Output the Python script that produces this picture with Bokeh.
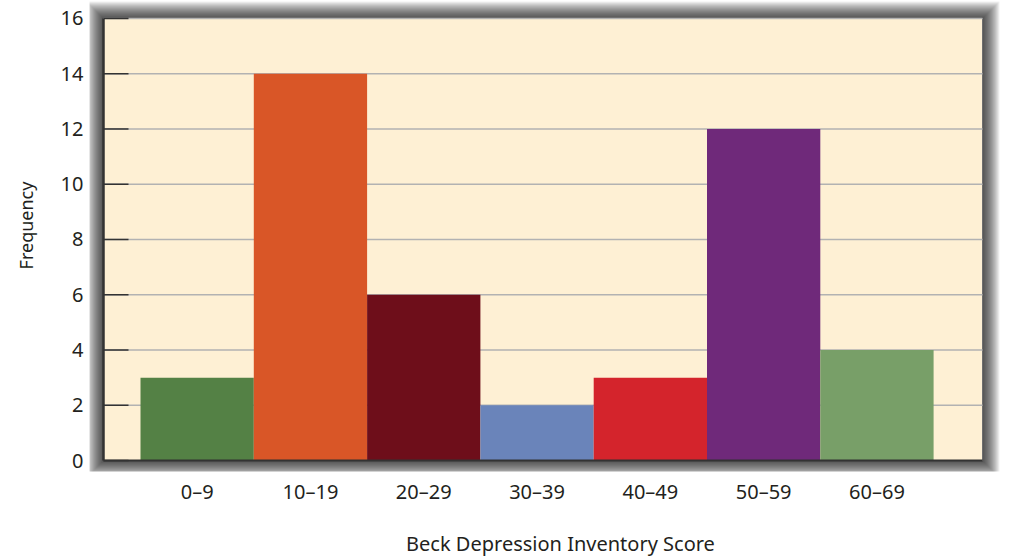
from bokeh.plotting import figure
from bokeh.models import ColumnDataSource, FixedTicker
from bokeh.embed import file_html
from bokeh.resources import INLINE

categories = ["0–9", "10–19", "20–29", "30–39", "40–49", "50–59", "60–69"]
frequency = [3, 14, 6, 2, 3, 12, 4]
colors = ["#548145", "#D95627", "#6E0E1A", "#6A84BA", "#D4242C", "#6F297A", "#789F68"]
y_ticks = [0, 2, 4, 6, 8, 10, 12, 14, 16]

FONT = "Noto Sans"
BG = "#FEF0D4"
TXT = "#231f20"

# geometry (pixels) of the cream plotting box and the surrounding shadow
W, H = 1035, 559
box_l, box_r, box_t, box_b = 103, 982, 18, 461
fr_l, fr_t, fr_b = 89, 0, 472
title_cx = 560                     # horizontal centre of the x-axis title
fr_r = 2 * title_cx - fr_l         # frame made asymmetric so the title centres there
bar_px = 113.3
left_gap_px = 37
shadow_px = 17

ppx = bar_px                      # pixels per x unit
ppy = (box_b - box_t) / 16.0      # pixels per y unit
cx0 = -0.5 - left_gap_px / ppx
cx1 = cx0 + (box_r - box_l) / ppx
cy0, cy1 = 0.0, 16.0
x_start = cx0 - (box_l - fr_l) / ppx
x_end = cx1 + (fr_r - box_r) / ppx
y_start = cy0 - (fr_b - box_b) / ppy
y_end = cy1 + (box_t - fr_t) / ppy

p = figure(width=W, height=H, output_backend="svg", toolbar_location=None,
           x_range=(x_start, x_end), y_range=(y_start, y_end))
p.min_border_left = fr_l
p.min_border_right = W - fr_r
p.min_border_top = fr_t
p.min_border_bottom = H - fr_b
p.background_fill_color = "white"
p.border_fill_color = "white"
p.outline_line_color = None
p.xgrid.visible = False
p.ygrid.visible = False

# soft drop shadow: stacked translucent boxes
for i in range(shadow_px, 0, -1):
    p.quad(left=cx0 - i / ppx, right=cx1 + i / ppx, bottom=cy0 - i / ppy, top=cy1 + i / ppy,
           fill_color="black", fill_alpha=0.06, line_color=None, level="image")
# cream plotting box
p.quad(left=cx0, right=cx1, bottom=cy0, top=cy1, fill_color=BG, line_color="#6e6e6e",
       line_width=1, level="image")

# grid lines
grid_y = [t for t in y_ticks if t > 0]
p.segment(x0=[cx0] * len(grid_y), x1=[cx1] * len(grid_y), y0=grid_y, y1=grid_y,
          line_color="#b2b2b2", line_width=1.5, level="underlay")

# bars
src = ColumnDataSource(dict(x=list(range(len(categories))), top=frequency, color=colors))
p.vbar(x="x", top="top", width=1.0, bottom=0, source=src, fill_color="color",
       line_color=None)

# axis lines and inward tick marks
p.segment(x0=[cx0], x1=[cx0], y0=[cy0], y1=[cy1], line_color="#333333", line_width=2.5,
          level="overlay")
p.segment(x0=[cx0], x1=[cx1], y0=[cy0], y1=[cy0], line_color="#333333", line_width=2,
          level="overlay")
p.segment(x0=[cx0] * len(y_ticks), x1=[cx0 + 25 / ppx] * len(y_ticks), y0=y_ticks, y1=y_ticks,
          line_color="#333333", line_width=1.5, level="overlay")

# x axis (labels only)
p.xaxis.ticker = FixedTicker(ticks=list(range(len(categories))))
p.xaxis.major_label_overrides = {i: c for i, c in enumerate(categories)}
p.xaxis.major_tick_line_color = None
p.xaxis.minor_tick_line_color = None
p.xaxis.axis_line_color = None
p.xaxis.major_label_text_font = FONT
p.xaxis.major_label_text_font_size = "20px"
p.xaxis.major_label_text_color = TXT
p.xaxis.major_label_standoff = 0
p.xaxis.axis_label = "Beck Depression Inventory Score"
p.xaxis.axis_label_text_font = FONT
p.xaxis.axis_label_text_font_size = "20px"
p.xaxis.axis_label_text_font_style = "normal"
p.xaxis.axis_label_text_color = TXT
p.xaxis.axis_label_standoff = 22

# y axis (labels only)
p.yaxis.ticker = FixedTicker(ticks=y_ticks)
p.yaxis.major_tick_line_color = None
p.yaxis.minor_tick_line_color = None
p.yaxis.axis_line_color = None
p.yaxis.major_label_text_font = FONT
p.yaxis.major_label_text_font_size = "20px"
p.yaxis.major_label_text_color = TXT
p.yaxis.major_label_standoff = 0
# leading em + thin space lift the centred, rotated title to where the original sits
p.yaxis.axis_label = "\u2003\u2009Frequency"
p.yaxis.axis_label_text_font = FONT
p.yaxis.axis_label_text_font_size = "18px"
p.yaxis.axis_label_text_font_style = "normal"
p.yaxis.axis_label_text_color = TXT
p.yaxis.axis_label_standoff = 20

open("out.html", "w").write(file_html(p, INLINE))
